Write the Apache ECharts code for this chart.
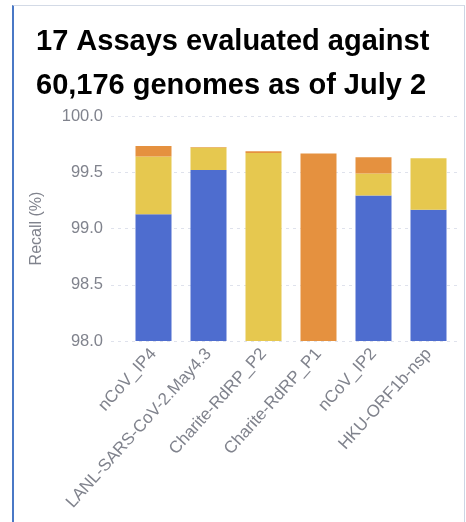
<!DOCTYPE html>
<html>
<head>
<meta charset="utf-8">
<script src="https://cdn.jsdelivr.net/npm/echarts@6/dist/echarts.min.js"></script>
<style>
html,body{margin:0;padding:0;background:#fff;}
#frame{position:absolute;left:12px;top:5px;width:450px;height:530px;border-left:2px solid #4a78c6;border-top:1px solid #d3dae6;border-right:1px solid #ccd5e4;}
#chart{position:absolute;left:0;top:0;width:466px;height:522px;}
</style>
</head>
<body>
<div id="frame"></div>
<div id="chart"></div>
<script>
const titleLines = ['17 Assays evaluated against', '60,176 genomes as of July 2'];
const categories = ['nCoV_IP4', 'LANL-SARS-CoV-2.May4.3', 'Charite-RdRP_P2', 'Charite-RdRP_P1', 'nCoV_IP2', 'HKU-ORF1b-nsp'];
// stacked segments (Recall %)
const blueSeg   = [99.126, 99.52, null, null, 99.294, 99.167];
const yellowSeg = [0.514, 0.20, 99.672, null, 0.196, 0.458];
const orangeSeg = [0.094, 0.004, 0.015, 99.667, 0.144, null];
const yTicks = { min: 98.0, max: 100.0, interval: 0.5 };
const colors = { blue: '#4e6dcf', yellow: '#e6c84f', orange: '#e5913f' };

const chart = echarts.init(document.getElementById('chart'), null, { renderer: 'canvas' });
const labelColor = '#80838d';
const font = 'Liberation Sans, Arial, sans-serif';
chart.setOption({
  animation: false,
  backgroundColor: 'transparent',
  title: {
    text: titleLines.join('\n'),
    left: 31, top: 15,
    textStyle: { fontFamily: font, fontWeight: 'bold', fontSize: 29, lineHeight: 44, color: '#000' }
  },
  grid: [
    { left: 111, right: 9, top: 116, bottom: 181 },
    { left: 126, right: 10, top: 116, bottom: 181 }
  ],
  xAxis: [
    { gridIndex: 0, type: 'value', min: 0, max: 1, show: false },
    {
      gridIndex: 1, type: 'category', data: categories,
      axisLine: { show: false }, axisTick: { show: false },
      axisLabel: { rotate: 48, margin: 10, fontSize: 17, color: labelColor, fontFamily: font, interval: 0 }
    }
  ],
  yAxis: [
    {
      gridIndex: 0, type: 'value', min: yTicks.min, max: yTicks.max, interval: yTicks.interval,
      name: 'Recall (%)', nameLocation: 'middle', nameGap: 66,
      nameTextStyle: { fontSize: 16, color: labelColor, fontFamily: font },
      axisLine: { show: false }, axisTick: { show: false },
      axisLabel: { fontSize: 16.5, color: labelColor, fontFamily: font, margin: 8, formatter: v => v.toFixed(1) },
      splitLine: { show: true, lineStyle: { color: '#dfe2ec', type: [3, 4], width: 1 } }
    },
    {
      gridIndex: 1, type: 'value', min: yTicks.min, max: yTicks.max, interval: yTicks.interval,
      show: false, splitLine: { show: false }
    }
  ],
  series: [
    { type: 'bar', xAxisIndex: 1, yAxisIndex: 1, stack: 'r', data: blueSeg, barWidth: 36, itemStyle: { color: colors.blue } },
    { type: 'bar', xAxisIndex: 1, yAxisIndex: 1, stack: 'r', data: yellowSeg, barWidth: 36, itemStyle: { color: colors.yellow } },
    { type: 'bar', xAxisIndex: 1, yAxisIndex: 1, stack: 'r', data: orangeSeg, barWidth: 36, itemStyle: { color: colors.orange } }
  ]
});
</script>
</body>
</html>
